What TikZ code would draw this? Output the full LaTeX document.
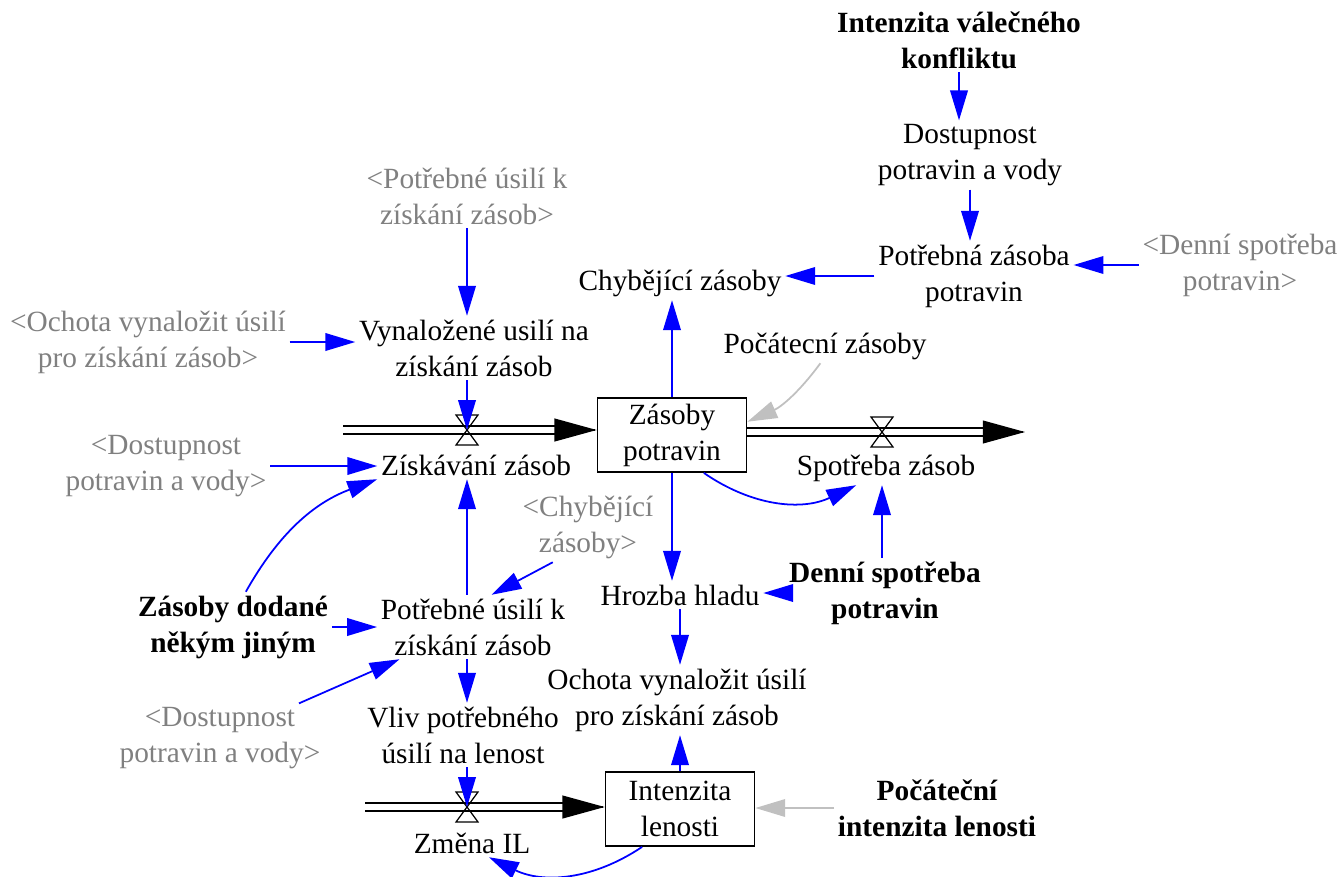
\documentclass[tikz,border=0pt]{standalone}
\usepackage{fontspec}
\setmainfont{Liberation Serif}
\usetikzlibrary{arrows.meta}
\definecolor{shadowgray}{RGB}{128,128,128}
\definecolor{initgray}{RGB}{192,192,192}

\begin{document}
\begin{tikzpicture}[
    x=0.02cm, y=-0.02cm,
    every node/.style={font=\fontsize{16.7}{20.5}\selectfont, align=center, inner sep=2pt},
    shadow/.style={text=shadowgray},
    input/.style={font=\fontsize{16.7}{20.5}\selectfont\bfseries},
    stock/.style={draw, line width=1pt, minimum width=2.98cm, minimum height=1.48cm},
    link/.style={draw=blue, line width=1pt, -{Triangle[length=17pt,width=10pt]}},
    initlink/.style={link, draw=initgray},
    pipe/.style={double, double distance=3.7pt, line width=0.8pt, shorten >=20pt},
    flowtip/.style={line width=0.8pt, -{Triangle[length=24pt,width=13pt]}},
    valve/.style={line width=0.7pt}
]
    \useasboundingbox (0,0) rectangle (1341,876);

    %stocks
    \node[stock] (zasoby) at (672,435) {Zásoby\\potravin};
    \node[stock] (lenost) at (680,809) {Intenzita\\lenosti};

    %flows
    \coordinate (src1) at (343,430);
    \coordinate (sink1) at (1025,432);
    \coordinate (src2) at (365,807);
    \coordinate (valve1) at (467,430);
    \coordinate (valve3) at (882,432);
    \coordinate (valve2) at (467,807);
    \coordinate (endA) at (src1 -| zasoby.west);
    \coordinate (startB) at (sink1 -| zasoby.east);
    \coordinate (endC) at (src2 -| lenost.west);

    \draw[pipe] (src1) -- (endA);
    \draw[pipe] (startB) -- (sink1);
    \draw[pipe] (src2) -- (endC);
    \draw[flowtip] ([xshift=-1pt]endA) -- (endA);
    \draw[flowtip] ([xshift=-1pt]sink1) -- (sink1);
    \draw[flowtip] ([xshift=-1pt]endC) -- (endC);

    \foreach \v in {valve1,valve2,valve3}
    {
        \draw[valve] (\v) ++(-11,-15) -- ++(22,0) -- ++(-22,30) -- ++(22,0) -- cycle;
    }

    \node (ziskavani) at (476,465) {Získávání zásob};
    \node (spotreba) at (886,468) {Spotřeba zásob};
    \node (zmena) at (472,843) {Změna IL};

    %variables
    \node[input] (konflikt) at (959,40) {Intenzita válečného\\konfliktu};
    \node (dostupnost) at (970,155) {Dostupnost\\potravin a vody};
    \node (potrebna) at (974,276) {Potřebná zásoba\\potravin};
    \node (chybejici) at (680,283) {Chybějící zásoby};
    \node (vynalozene) at (474,348) {Vynaložené usilí na\\získání zásob};
    \node (pocatecni) at (825,346) {Počátecní zásoby};
    \node[input] (dodane) at (233,627) {Zásoby dodané\\někým jiným};
    \node (potrebneusili) at (473,627) {Potřebné úsilí k\\získání zásob};
    \node (hrozba) at (680,595) {Hrozba hladu};
    \node[input] (denni) at (885,593) {Denní spotřeba\\potravin};
    \node (ochota) at (677,700) {Ochota vynaložit úsilí\\pro získání zásob};
    \node (vliv) at (463,735) {Vliv potřebného\\úsilí na lenost};
    \node[input] (pocatecniIL) at (937,808) {Počáteční\\intenzita lenosti};

    %shadow variables
    \node[shadow] (dennishadow) at (1240,265) {<Denní spotřeba\\potravin>};
    \node[shadow] (usilishadow) at (467,196) {<Potřebné úsilí k\\získání zásob>};
    \node[shadow] (ochotashadow) at (148,342) {<Ochota vynaložit úsilí\\pro získání zásob>};
    \node[shadow] (dostshadowA) at (166,466) {<Dostupnost\\potravin a vody>};
    \node[shadow] (chybshadow) at (588,527) {<Chybějící\\zásoby>};
    \node[shadow] (dostshadowB) at (220,738) {<Dostupnost\\potravin a vody>};

    %links
    \draw[link] (konflikt.south) -- (konflikt.south |- dostupnost.north);
    \draw[link] (dostupnost.south) -- (dostupnost.south |- potrebna.north);
    \draw[link] (dennishadow.west) -- (dennishadow.west -| potrebna.east);
    \draw[link] (potrebna.west) -- (potrebna.west -| chybejici.east);
    \draw[link] (zasoby.north) -- (zasoby.north |- chybejici.south);
    \draw[link] (valve1 |- usilishadow.south) -- (valve1 |- vynalozene.north);
    \draw[link] (ochotashadow.east) -- (ochotashadow.east -| vynalozene.west);
    \draw[link] (valve1 |- vynalozene.south) -- (valve1);
    \draw[link] (dostshadowA.east) -- (dostshadowA.east -| ziskavani.west);
    \draw[link] (dodane.70) to[bend left=20] (ziskavani.south west);
    \draw[link] (valve1 |- potrebneusili.north) -- (valve1 |- ziskavani.south);
    \draw[link] (chybshadow.-135) -- (potrebneusili.60);
    \draw[link] (dodane.east) -- (dodane.east -| potrebneusili.west);
    \draw[link] (dostshadowB) -- (potrebneusili);
    \draw[link] (valve2 |- potrebneusili.south) -- (valve2 |- vliv.north);
    \draw[link] (valve2 |- vliv.south) -- (valve2);
    \draw[link] (zasoby.south) -- (zasoby.south |- hrozba.north);
    \draw[link] (zasoby.-50) to[bend right=30] (spotreba.-150);
    \draw[link] (valve3 |- denni.north) -- (valve3 |- spotreba.south);
    \draw[link] (denni.west) -- (denni.west -| hrozba.east);
    \draw[link] (hrozba.south) -- (hrozba.south |- ochota.north);
    \draw[link] (lenost.north) -- (lenost.north |- ochota.south);
    \draw[link] (lenost.-135) to[bend left=30] (zmena.-40);

    %initial values
    \draw[initlink] (pocatecni.-105) to[bend left=15] (zasoby.10);
    \draw[initlink] (pocatecniIL.west) -- (pocatecniIL.west -| lenost.east);
\end{tikzpicture}
\end{document}
